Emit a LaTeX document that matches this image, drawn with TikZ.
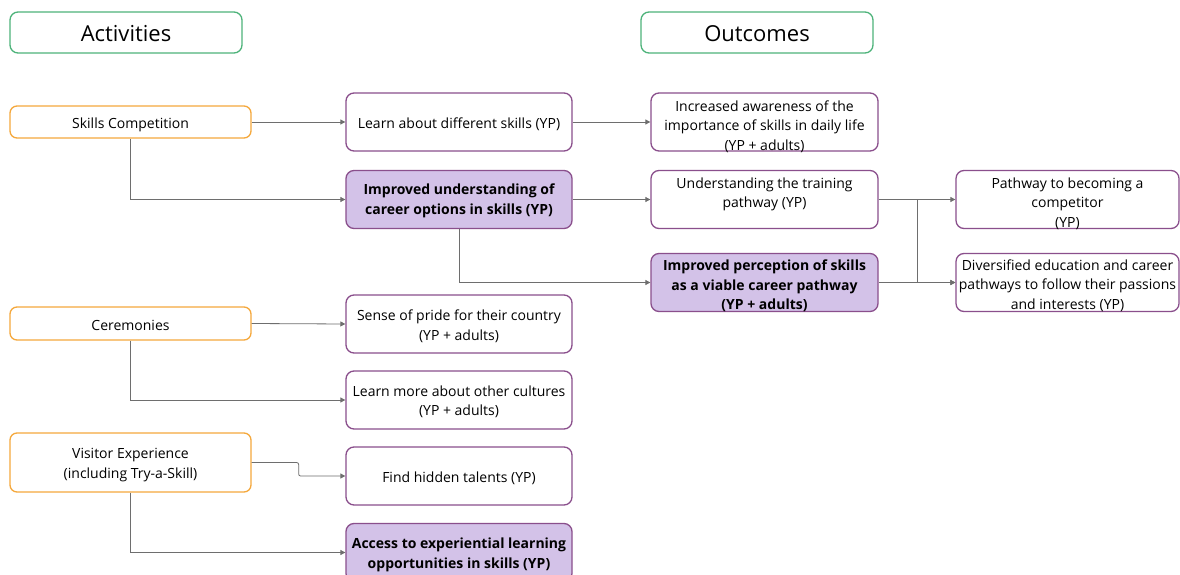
\documentclass[tikz,border=0pt]{standalone}
\usepackage{fontspec}
\setmainfont{Open Sans}
\usetikzlibrary{arrows.meta}
\definecolor{hgreen}{HTML}{4DB37A}
\definecolor{aorange}{HTML}{F5A83C}
\definecolor{opurple}{HTML}{8A4F8C}
\definecolor{lav}{HTML}{D3C2E8}
\definecolor{lgray}{HTML}{6E6E6E}
\tikzset{
  hdr/.style={draw=hgreen, line width=1.3pt, rounded corners=8pt, minimum width=232pt, minimum height=41pt, inner sep=0pt},
  act/.style={draw=aorange, line width=1.3pt, rounded corners=7pt, minimum width=241pt, inner sep=0pt},
  outc/.style={draw=opurple, line width=1.3pt, rounded corners=8pt, minimum width=226pt, minimum height=58pt, inner sep=0pt},
  keyo/.style={outc, fill=lav},
  htxt/.style={inner sep=0pt, font=\fontsize{22}{26}\selectfont},
  txt/.style={inner sep=0pt, align=center, font=\fontsize{14}{19.5}\selectfont},
  ktxt/.style={txt, font=\fontsize{14}{19.5}\selectfont\bfseries},
  conn/.style={draw=lgray, line width=0.8pt, -{Triangle[length=5pt,width=5pt]}},
}
% a box (empty node) with its caption set slightly below the box centre
% #1 box style, #2 name, #3 position, #4 caption style, #5 caption drop, #6 caption
\newcommand\cardnode[6]{%
  \node[#1] (#2) at (#3) {};
  \node[#4, yshift=-#5pt] (#2-t) at (#2.center) {#6};}
\begin{document}
\begin{tikzpicture}[x=1pt,y=-1pt]
\useasboundingbox (0,0) rectangle (1180,575);
\clip (0,0) rectangle (1180,575);
\fill[white] (0,0) rectangle (1180,575);

% column headings
\cardnode{hdr}{hact}{126,32.5}{htxt}{1}{Activities}
\cardnode{hdr}{hout}{757,32.5}{htxt}{1}{Outcomes}

% activities
\cardnode{act, minimum height=32pt}{sc}{130.5,122}{txt}{2.5}{Skills Competition}
\cardnode{act, minimum height=33pt}{cer}{130.5,323.5}{txt}{1.5}{Ceremonies}
\cardnode{act, minimum height=59pt}{vis}{130.5,462.5}{txt}{2.5}{Visitor Experience\\(including Try-a-Skill)}

% first-level outcomes
\cardnode{outc}{learn}{459,122}{txt}{2.5}{Learn about different skills (YP)}
\cardnode{keyo}{iuc}{459,199.5}{ktxt}{1.5}{Improved understanding of\\career options in skills (YP)}
\cardnode{outc}{pride}{459,324}{txt}{2}{Sense of pride for their country\\(YP + adults)}
\cardnode{outc}{cult}{459,400}{txt}{2}{Learn more about other cultures\\(YP + adults)}
\cardnode{outc}{hid}{459,476}{txt}{2}{Find hidden talents (YP)}
\cardnode{keyo}{acc}{459,552.5}{ktxt}{2.5}{Access to experiential learning\\opportunities in skills (YP)}

% second-level outcomes
\cardnode{outc, minimum width=227pt}{aware}{764.5,122}{txt}{4.5}{Increased awareness of the\\importance of skills in daily life\\(YP + adults)}
\cardnode{outc, minimum width=227pt}{utp}{764.5,199.5}{txt}{-5}{Understanding the training\\pathway (YP)}
\cardnode{keyo, minimum width=227pt}{iper}{764.5,282.5}{ktxt}{3.5}{Improved perception of skills\\as a viable career pathway\\(YP + adults)}

% third-level outcomes
\cardnode{outc, minimum width=223pt}{pbc}{1067.5,199.5}{txt}{4}{Pathway to becoming a\\competitor\\(YP)}
\cardnode{outc, minimum width=223pt}{div}{1067.5,282.5}{txt}{3}{Diversified education and career\\pathways to follow their passions\\and interests (YP)}

% connectors
\draw[conn] (sc.east) -- (learn.west);
\draw[conn] (sc.south) |- (iuc.west);
\draw[conn] (learn.east) -- (aware.west);
\draw[conn] (iuc.east) -- (utp.west);
\draw[conn] (iuc.south) |- (iper.west);
\draw[conn] (utp.east) -- (pbc.west);
\draw[conn] (utp.east) -- ++(39,0) |- (div.west);
\draw[conn] (iper.east) -- (div.west);
\draw[conn] (cer.east) -- (pride.west);
\draw[conn] (cer.south) |- (cult.west);
\draw[conn, rounded corners=2pt] (vis.east) -- ++(47,0) |- (hid.west);
\draw[conn] (vis.south) |- (acc.west);
\end{tikzpicture}
\end{document}
